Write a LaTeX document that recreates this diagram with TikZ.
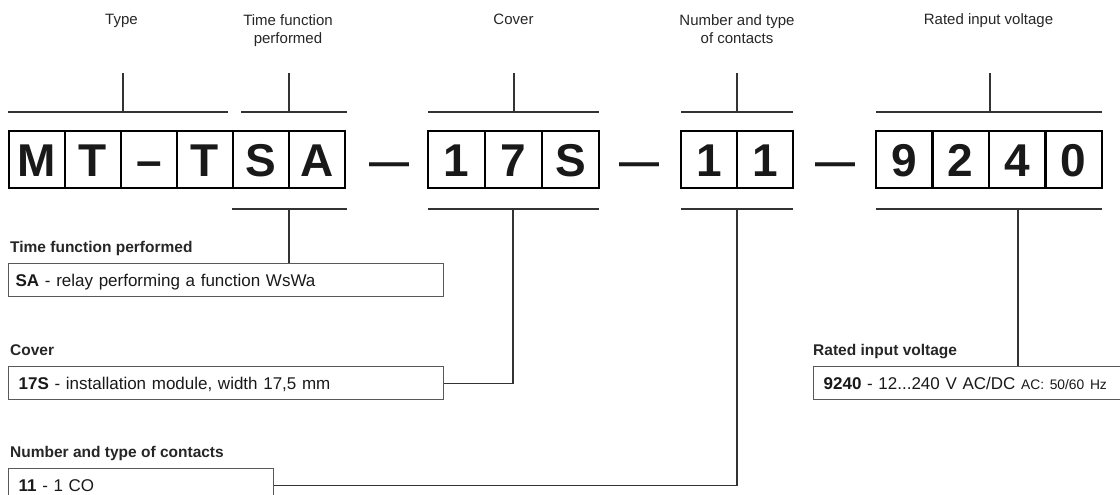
\documentclass[tikz,border=0pt]{standalone}
\usepackage{fontspec}
\setmainfont{Liberation Sans}
\begin{document}
\begin{tikzpicture}[x=1pt,y=-1pt,
  cell/.style={draw=black, line width=2.6pt, minimum height=57pt, inner sep=0pt,
    text height=33pt, text depth=0pt, font=\fontsize{46}{46}\selectfont\bfseries, text=black!90},
  bigdash/.style={inner sep=0pt, anchor=base, font=\fontsize{40}{40}\selectfont\bfseries, text=black!90},
  br/.style={draw=black!80, line width=1.2pt},
  toplabel/.style={inner sep=0pt, font=\fontsize{15}{18}\selectfont, text=black!85, align=center},
  head/.style={inner sep=0pt, anchor=base west, font=\fontsize{15.5}{18}\selectfont\bfseries, text=black!85},
  lbox/.style={draw=black!65, line width=1.3pt, minimum height=33pt, inner ysep=0pt,
    text height=12.2pt, text depth=0pt, align=left, anchor=north west,
    font=\fontsize{17}{20}\selectfont, text=black!90}
]
\useasboundingbox (0,0) rectangle (1120,495);
\clip (0,0) rectangle (1120,495);

% ---- code cells ----
\node[cell, minimum width=56pt] (c1) at (37,159.5) {M};
\node[cell, minimum width=56pt] (c2) at (93,159.5) {T};
\node[cell, minimum width=56pt] (c3) at (149,159.5) {–};
\node[cell, minimum width=56pt] (c4) at (205,159.5) {T};
\node[cell, minimum width=56pt] (c5) at (261,159.5) {S};
\node[cell, minimum width=56pt] (c6) at (317,159.5) {A};

\node[bigdash] (d1) at (389.5,175) {—};

\node[cell, minimum width=57pt] (c7) at (456.5,159.5) {1};
\node[cell, minimum width=57pt] (c8) at (513.5,159.5) {7};
\node[cell, minimum width=57pt] (c9) at (570.5,159.5) {S};

\node[bigdash] (d2) at (639.5,175) {—};

\node[cell, minimum width=56pt] (c10) at (709,159.5) {1};
\node[cell, minimum width=56pt] (c11) at (765,159.5) {1};

\node[bigdash] (d3) at (835,175) {—};

\node[cell, minimum width=56.5pt] (c12) at (904.25,159.5) {9};
\node[cell, minimum width=56.5pt] (c13) at (960.75,159.5) {2};
\node[cell, minimum width=56.5pt] (c14) at (1017.25,159.5) {4};
\node[cell, minimum width=56.5pt] (c15) at (1073.75,159.5) {0};

% ---- top labels ----
\node[toplabel, anchor=base] (lType) at (121.5,25) {Type};
\node[toplabel, anchor=north] (lTF) at (288,14) {Time function\\performed};
\node[toplabel, anchor=base] (lCov) at (513.5,25) {Cover};
\node[toplabel, anchor=north] (lNT) at (737,14) {Number and type\\of contacts};
\node[toplabel, anchor=base] (lRV) at (988.5,25) {Rated input voltage};

% ---- top brackets ----
\draw[br] (8,112) -- (228,112);   \draw[br] (123,112) -- (123,73);
\draw[br] (241,112) -- (347,112); \draw[br] (289,112) -- (289,73);
\draw[br] (428,112) -- (599,112); \draw[br] (514,112) -- (514,73);
\draw[br] (681,112) -- (793,112); \draw[br] (737,112) -- (737,73);
\draw[br] (876,112) -- (1102,112);\draw[br] (990,112) -- (990,73);

% ---- bottom brackets ----
\draw[br] (232,209) -- (347,209);
\draw[br] (428,209) -- (599,209);
\draw[br] (681,209) -- (793,209);
\draw[br] (876,209) -- (1102,209);
\coordinate (bSA) at (289,209);
\coordinate (bCv) at (513,209);
\coordinate (bCt) at (737,209);
\coordinate (bRV) at (1018,209);

% ---- lower descriptions ----
\node[head] (hSA) at (10,252) {Time function performed};
\node[lbox, inner xsep=7pt, text width=421pt] (sabox) at (8,263)
  {\textbf{SA} - relay performing a function WsWa};

\node[head] (hCv) at (10,355) {Cover};
\node[lbox, inner xsep=10pt, text width=415pt] (cvbox) at (8,366)
  {\textbf{17S} - installation module, width 17,5 mm};

\node[head] (hCt) at (10,457) {Number and type of contacts};
\node[lbox, inner xsep=10pt, text width=245pt] (ctbox) at (8,468)
  {\textbf{11} - 1 CO};

\node[head] (hRV) at (813,355) {Rated input voltage};
\node[lbox, inner xsep=10pt, text width=297pt] (rvbox) at (813,366)
  {\textbf{9240} - 12...240 V AC/DC {\fontsize{13.8}{15}\selectfont AC: 50/60 Hz}};

% ---- connectors ----
\draw[br] (bSA) -- (bSA |- sabox.north);
\draw[br] (bCv) |- (cvbox.east);
\draw[br] (bCt) |- (ctbox.east);
\draw[br] (bRV) -- (bRV |- rvbox.north);
\end{tikzpicture}
\end{document}
